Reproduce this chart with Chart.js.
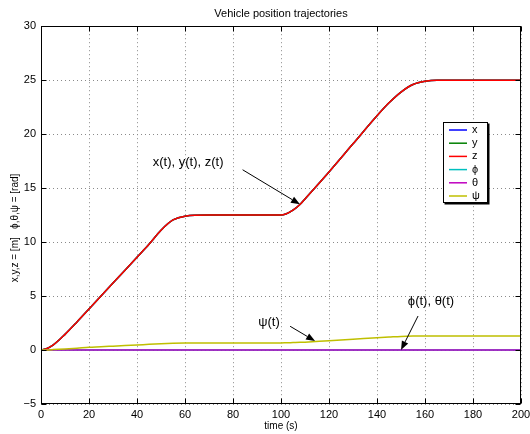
<!DOCTYPE html>
<html lang="en">
  <head>
    <meta charset="UTF-8" />
    <title>Vehicle position trajectories</title>
    <style>
      html,
      body {
        margin: 0;
        padding: 0;
        background: #fff;
      }
      #wrap {
        width: 530px;
        height: 434px;
      }
    </style>
  </head>
  <body>
    <div id="wrap"><canvas id="trajChart" width="530" height="434"></canvas></div>

    <script src="https://cdn.jsdelivr.net/npm/chart.js"></script>
    <script>
      // sample times (s)
      const timeS = [0, 2, 5, 10, 15, 20, 25, 30, 35, 40, 45, 50, 55, 60, 70, 80, 90, 100, 102, 105, 108, 110, 120, 130, 140, 145, 150, 155, 160, 165, 170, 180, 190, 200];
      // x, y and z lie on top of each other in the plot
      const posX = [0, 0.1, 0.45, 1.45, 2.6, 3.8, 5.0, 6.2, 7.4, 8.6, 9.8, 11.1, 12.05, 12.4, 12.5, 12.5, 12.5, 12.5, 12.6, 12.95, 13.5, 14.0, 16.5, 19.1, 21.7, 22.9, 23.9, 24.6, 24.9, 25, 25, 25, 25, 25];
      const posY = [0, 0.1, 0.45, 1.45, 2.6, 3.8, 5.0, 6.2, 7.4, 8.6, 9.8, 11.1, 12.05, 12.4, 12.5, 12.5, 12.5, 12.5, 12.6, 12.95, 13.5, 14.0, 16.5, 19.1, 21.7, 22.9, 23.9, 24.6, 24.9, 25, 25, 25, 25, 25];
      const posZ = [0, 0.1, 0.45, 1.45, 2.6, 3.8, 5.0, 6.2, 7.4, 8.6, 9.8, 11.1, 12.05, 12.4, 12.5, 12.5, 12.5, 12.5, 12.6, 12.95, 13.5, 14.0, 16.5, 19.1, 21.7, 22.9, 23.9, 24.6, 24.9, 25, 25, 25, 25, 25];
      const angPhi = [0, 0, 0, 0, 0, 0, 0, 0, 0, 0, 0, 0, 0, 0, 0, 0, 0, 0, 0, 0, 0, 0, 0, 0, 0, 0, 0, 0, 0, 0, 0, 0, 0, 0];
      const angTheta = [0, 0, 0, 0, 0, 0, 0, 0, 0, 0, 0, 0, 0, 0, 0, 0, 0, 0, 0, 0, 0, 0, 0, 0, 0, 0, 0, 0, 0, 0, 0, 0, 0, 0];
      const angPsi = [0, 0.01, 0.04, 0.1, 0.17, 0.25, 0.3, 0.36, 0.42, 0.47, 0.53, 0.58, 0.62, 0.64, 0.66, 0.66, 0.66, 0.66, 0.67, 0.69, 0.71, 0.73, 0.87, 1.0, 1.14, 1.2, 1.26, 1.29, 1.3, 1.3, 1.3, 1.3, 1.3, 1.3];

      const seriesNames = ["x", "y", "z", "\u03d5", "\u03b8", "\u03c8"];
      const seriesColors = ["#0000ff", "#008000", "#ff0000", "#00bfbf", "#bf00bf", "#bfbf00"];

      const xTicks = [0, 20, 40, 60, 80, 100, 120, 140, 160, 180, 200];
      const yTicks = [-5, 0, 5, 10, 15, 20, 25, 30];

      const fontFam = "'Liberation Sans', Arial, Helvetica, sans-serif";

      function pts(vals) {
        return timeS.map((t, i) => ({ x: t, y: vals[i] }));
      }

      const allSeries = [posX, posY, posZ, angPhi, angTheta, angPsi];
      // later series sit on top, like matlab
      const datasets = allSeries.map((vals, i) => ({
        label: seriesNames[i],
        data: pts(vals),
        borderColor: seriesColors[i],
        backgroundColor: seriesColors[i],
        borderWidth: 1.5,
        pointRadius: 0,
        cubicInterpolationMode: "monotone",
        order: allSeries.length - i,
      }));

      // text + arrows, in data units
      const notes = [
        { text: "x(t), y(t), z(t)", tx: 61.3, ty: 17.4, from: [84, 16.7], to: [107.9, 13.5] },
        { text: "\u03c8(t)", tx: 95, ty: 2.6, from: [103.8, 2.2], to: [114.2, 0.83] },
        { text: "\u03d5(t), \u03b8(t)", tx: 162.5, ty: 4.5, from: [157.1, 3.15], to: [150, 0] },
      ];

      function arrow(ctx, x1, y1, x2, y2) {
        const a = Math.atan2(y2 - y1, x2 - x1);
        const len = 9, half = 3.5;
        const bx = x2 - len * Math.cos(a), by = y2 - len * Math.sin(a);
        ctx.beginPath();
        ctx.moveTo(x1, y1);
        ctx.lineTo(bx, by);
        ctx.stroke();
        ctx.beginPath();
        ctx.moveTo(x2, y2);
        ctx.lineTo(bx + half * Math.sin(a), by - half * Math.cos(a));
        ctx.lineTo(bx - half * Math.sin(a), by + half * Math.cos(a));
        ctx.closePath();
        ctx.fill();
      }

      const matlabLook = {
        id: "matlabLook",
        afterDatasetsDraw(chart) {
          const ctx = chart.ctx;
          const { left, right, top, bottom } = chart.chartArea;
          const sx = chart.scales.x, sy = chart.scales.y;
          ctx.save();

          // box + inner ticks
          ctx.strokeStyle = "#000";
          ctx.lineWidth = 1;
          const L = Math.round(left) + 0.5, R = Math.round(right) - 0.5;
          const T = Math.round(top) + 0.5, B = Math.round(bottom) - 0.5;
          ctx.strokeRect(L, T, R - L, B - T);
          ctx.beginPath();
          xTicks.forEach((v) => {
            const px = Math.round(sx.getPixelForValue(v)) + 0.5;
            ctx.moveTo(px, B); ctx.lineTo(px, B - 5);
            ctx.moveTo(px, T); ctx.lineTo(px, T + 5);
          });
          yTicks.forEach((v) => {
            const py = Math.round(sy.getPixelForValue(v)) + 0.5;
            ctx.moveTo(L, py); ctx.lineTo(L + 5, py);
            ctx.moveTo(R, py); ctx.lineTo(R - 5, py);
          });
          ctx.stroke();

          // annotations
          ctx.fillStyle = "#000";
          ctx.font = "13px " + fontFam;
          ctx.textAlign = "center";
          ctx.textBaseline = "middle";
          notes.forEach((n) => {
            ctx.fillText(n.text, sx.getPixelForValue(n.tx), sy.getPixelForValue(n.ty));
            arrow(
              ctx,
              sx.getPixelForValue(n.from[0]), sy.getPixelForValue(n.from[1]),
              sx.getPixelForValue(n.to[0]), sy.getPixelForValue(n.to[1])
            );
          });

          // legend box
          const lx = 443.5, ly = 122.5, lw = 44, lh = 80;
          ctx.fillStyle = "#fff";
          ctx.fillRect(lx, ly, lw, lh);
          ctx.lineWidth = 1;
          ctx.strokeRect(lx, ly, lw, lh);
          ctx.lineWidth = 2;
          ctx.beginPath();
          ctx.moveTo(lx + lw + 1, ly + 1);
          ctx.lineTo(lx + lw + 1, ly + lh + 1);
          ctx.lineTo(lx + 1, ly + lh + 1);
          ctx.stroke();
          ctx.font = "11px " + fontFam;
          ctx.textAlign = "left";
          chart.data.datasets.forEach((ds, i) => {
            const ry = ly + 7.5 + i * 13.2;
            ctx.strokeStyle = ds.borderColor;
            ctx.lineWidth = 1.5;
            ctx.beginPath();
            ctx.moveTo(449, ry);
            ctx.lineTo(467, ry);
            ctx.stroke();
            ctx.fillStyle = "#000";
            ctx.fillText(ds.label, 472, ry);
          });

          // y label
          ctx.font = "10px " + fontFam;
          ctx.textAlign = "center";
          ctx.translate(15, 228);
          ctx.rotate(-Math.PI / 2);
          ctx.fillText("x,y,z = [m]   \u03d5,\u03b8,\u03c8 = [rad]", 0, 0);
          ctx.restore();
        },
      };

      const ctx = document.getElementById("trajChart").getContext("2d");
      new Chart(ctx, {
        type: "line",
        data: { datasets: datasets },
        plugins: [matlabLook],
        options: {
          responsive: false,
          animation: false,
          events: [],
          layout: { padding: { left: 0, right: 9, top: 0, bottom: 0 } },
          plugins: {
            legend: { display: false },
            tooltip: { enabled: false },
            title: {
              display: true,
              fullSize: false,
              text: "Vehicle position trajectories",
              color: "#000",
              font: { family: fontFam, size: 11, weight: "normal" },
              padding: { top: 7, bottom: 6 },
            },
          },
          scales: {
            x: {
              type: "linear",
              min: 0,
              max: 200,
              afterBuildTicks: (s) => {
                s.ticks = xTicks.map((v) => ({ value: v }));
              },
              afterFit: (s) => {
                s.height = 30;
                s.paddingLeft = 0;
                s.paddingRight = 0;
              },
              ticks: {
                color: "#000",
                padding: 4,
                maxRotation: 0,
                font: { family: fontFam, size: 11 },
              },
              grid: { color: "#8a8a8a", lineWidth: 1, drawTicks: false },
              border: { display: false, dash: [1, 3] },
              title: {
                display: true,
                text: "time (s)",
                color: "#000",
                font: { family: fontFam, size: 10 },
                padding: { top: 0, bottom: 2 },
              },
            },
            y: {
              type: "linear",
              min: -5,
              max: 30,
              afterBuildTicks: (s) => {
                s.ticks = yTicks.map((v) => ({ value: v }));
              },
              afterFit: (s) => {
                s.width = 41;
                s.paddingTop = 0;
                s.paddingBottom = 0;
              },
              ticks: {
                color: "#000",
                padding: 5,
                font: { family: fontFam, size: 11 },
                callback: (v) => String(v).replace("-", "\u2212"),
              },
              grid: { color: "#8a8a8a", lineWidth: 1, drawTicks: false },
              border: { display: false, dash: [1, 3] },
            },
          },
        },
      });
    </script>
  </body>
</html>
